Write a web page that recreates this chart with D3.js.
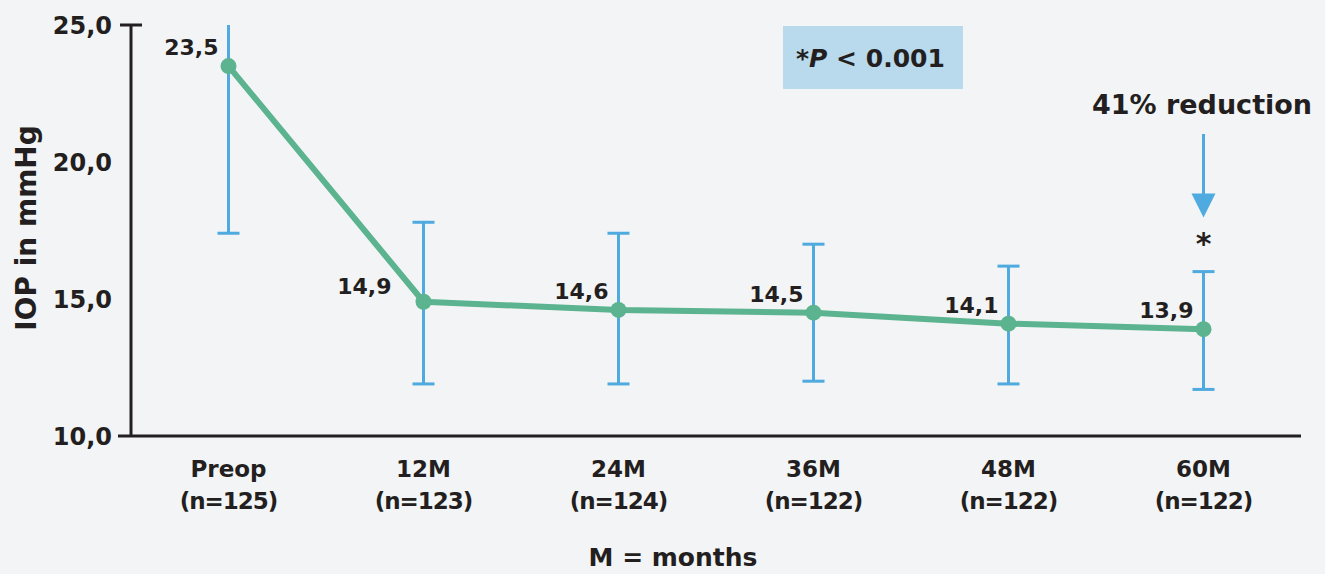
<!DOCTYPE html>
<html>
<head>
<meta charset="utf-8">
<script src="https://cdn.jsdelivr.net/npm/d3@7"></script>
<style>
  html, body { margin: 0; padding: 0; background: #f3f4f6; }
  svg { display: block; font-family: "DejaVu Sans", "Noto Sans", sans-serif; font-weight: bold; }
  text { fill: #231f20; }
</style>
</head>
<body>
<svg class="chart" width="1325" height="574"></svg>
<script>
// categorias e dados
const categories = ["Preop", "12M", "24M", "36M", "48M", "60M"];
const sampleSizes = ["(n=125)", "(n=123)", "(n=124)", "(n=122)", "(n=122)", "(n=122)"];
const iopMean = [23.5, 14.9, 14.6, 14.5, 14.1, 13.9];
const iopHigh = [25.0, 17.8, 17.4, 17.0, 16.2, 16.0];
const iopLow = [17.4, 11.9, 11.9, 12.0, 11.9, 11.7];
const valueLabels = ["23,5", "14,9", "14,6", "14,5", "14,1", "13,9"];
const yTicks = [10, 15, 20, 25];

const ink = "#231f20";
const green = "#5bb38f";
const blue = "#4eaadf";

const svg = d3.select("svg.chart");

const x = d3.scalePoint()
  .domain(categories)
  .range([131, 1301])
  .padding(0.5);

const y = d3.scaleLinear()
  .domain([10, 25])
  .range([436, 25]);

const data = categories.map((c, i) => ({
  cat: c, n: sampleSizes[i], mean: iopMean[i], hi: iopHigh[i], lo: iopLow[i], label: valueLabels[i]
}));

// eixo y
const yAxis = svg.append("g");
yAxis.append("line")
  .attr("x1", 131).attr("x2", 131)
  .attr("y1", y(25)).attr("y2", y(10))
  .attr("stroke", ink).attr("stroke-width", 3);
yAxis.append("line")
  .attr("x1", 120).attr("x2", 142)
  .attr("y1", y(25)).attr("y2", y(25))
  .attr("stroke", ink).attr("stroke-width", 3);
yAxis.selectAll("text")
  .data(yTicks)
  .join("text")
  .attr("x", 112)
  .attr("y", d => y(d) + 9)
  .attr("text-anchor", "end")
  .attr("font-size", 24)
  .text(d => d3.format(".1f")(d).replace(".", ","));

// eixo x
svg.append("line")
  .attr("x1", 118).attr("x2", 1301)
  .attr("y1", y(10)).attr("y2", y(10))
  .attr("stroke", ink).attr("stroke-width", 3);

const xl = svg.append("g").selectAll("text")
  .data(data)
  .join("text")
  .attr("text-anchor", "middle")
  .attr("font-size", 23);
xl.append("tspan").attr("x", d => x(d.cat)).attr("y", 477).text(d => d.cat);
xl.append("tspan").attr("x", d => x(d.cat)).attr("y", 509).attr("letter-spacing", -1).text(d => d.n);

// títulos
svg.append("text")
  .attr("transform", "translate(36,228) rotate(-90)")
  .attr("text-anchor", "middle")
  .attr("font-size", 28)
  .text("IOP in mmHg");

svg.append("text")
  .attr("x", 673).attr("y", 566)
  .attr("text-anchor", "middle")
  .attr("font-size", 25)
  .text("M = months");

// barras de erro
const eb = svg.append("g").attr("stroke", blue).attr("stroke-width", 3);
eb.selectAll("line.v")
  .data(data)
  .join("line")
  .attr("class", "v")
  .attr("x1", d => x(d.cat)).attr("x2", d => x(d.cat))
  .attr("y1", d => y(d.hi)).attr("y2", d => y(d.lo));
eb.selectAll("line.top")
  .data(data.filter(d => d.hi < 25))
  .join("line")
  .attr("class", "top")
  .attr("x1", d => x(d.cat) - 11).attr("x2", d => x(d.cat) + 11)
  .attr("y1", d => y(d.hi)).attr("y2", d => y(d.hi));
eb.selectAll("line.bot")
  .data(data)
  .join("line")
  .attr("class", "bot")
  .attr("x1", d => x(d.cat) - 11).attr("x2", d => x(d.cat) + 11)
  .attr("y1", d => y(d.lo)).attr("y2", d => y(d.lo));

// linha das médias
svg.append("path")
  .datum(data)
  .attr("fill", "none")
  .attr("stroke", green)
  .attr("stroke-width", 6)
  .attr("stroke-linejoin", "round")
  .attr("d", d3.line().x(d => x(d.cat)).y(d => y(d.mean)));

svg.selectAll("circle.pt")
  .data(data)
  .join("circle")
  .attr("class", "pt")
  .attr("cx", d => x(d.cat))
  .attr("cy", d => y(d.mean))
  .attr("r", 8)
  .attr("fill", green);

// rótulos dos valores (o de 12M fica mais afastado por causa da linha)
svg.selectAll("text.val")
  .data(data)
  .join("text")
  .attr("class", "val")
  .attr("x", (d, i) => x(d.cat) - (i === 1 ? 32 : 10))
  .attr("y", (d, i) => y(d.mean) - (i === 1 ? 8 : 11))
  .attr("text-anchor", "end")
  .attr("font-size", 22)
  .text(d => d.label);

// caixa do P
svg.append("rect")
  .attr("x", 783).attr("y", 26)
  .attr("width", 180).attr("height", 63)
  .attr("fill", "#b9d9ec");
const ptxt = svg.append("text")
  .attr("x", 796).attr("y", 67)
  .attr("font-size", 25);
ptxt.append("tspan").text("*");
ptxt.append("tspan").attr("font-style", "italic").text("P");
ptxt.append("tspan").text(" < 0.001");

// anotação de redução
const last = data[data.length - 1];
const ax = x(last.cat);
svg.append("text")
  .attr("x", 1202).attr("y", 114)
  .attr("text-anchor", "middle")
  .attr("font-size", 27)
  .text("41% reduction");
svg.append("line")
  .attr("x1", ax).attr("x2", ax)
  .attr("y1", 134).attr("y2", 196)
  .attr("stroke", blue).attr("stroke-width", 3);
svg.append("path")
  .attr("d", `M${ax - 12},${y(last.hi) - 78}L${ax + 12},${y(last.hi) - 78}L${ax},${y(last.hi) - 54}Z`)
  .attr("fill", blue);
svg.append("text")
  .attr("x", ax).attr("y", 254)
  .attr("text-anchor", "middle")
  .attr("font-size", 30)
  .text("*");
</script>
</body>
</html>
